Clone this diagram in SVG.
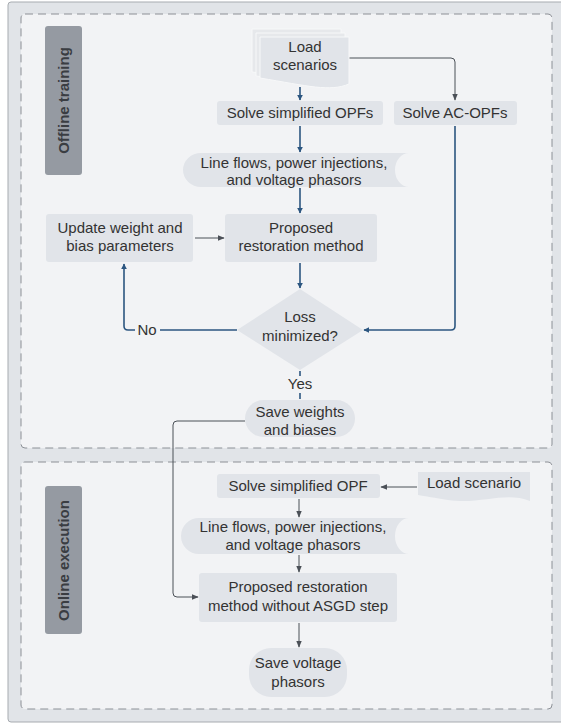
<svg xmlns="http://www.w3.org/2000/svg" width="561" height="724" viewBox="0 0 561 724">
<style>
.t{font-family:"Liberation Sans",Arial,sans-serif;font-size:15px;fill:#333;text-anchor:middle}
.lbl{font-family:"Liberation Sans",Arial,sans-serif;font-size:15px;font-weight:bold;fill:#3a3d42;text-anchor:middle}
.n{fill:#e1e4e9}
.blue{fill:none;stroke:#2c5680;stroke-width:1.6}
.gray{fill:none;stroke:#4b5057;stroke-width:1}
.cont{fill:#f2f3f5;stroke:#8c9096;stroke-width:1;stroke-dasharray:8 5}
</style>
<defs>
<marker id="ab" viewBox="0 0 10 10" refX="9" refY="5" markerWidth="6" markerHeight="6" orient="auto" markerUnits="userSpaceOnUse"><path d="M0,0 L10,5 L0,10 Z" fill="#2c5680"/></marker>
<marker id="ag" viewBox="0 0 10 10" refX="9" refY="5" markerWidth="7" markerHeight="7" orient="auto" markerUnits="userSpaceOnUse"><path d="M0,1 L10,5 L0,9 Z" fill="#4b5057"/></marker>
</defs>
<rect x="8" y="2" width="560" height="720" rx="3" fill="#e1e4e8" stroke="#a7abb0" stroke-width="1"/>
<rect class="cont" x="21" y="14" width="531" height="434" rx="4"/>
<rect class="cont" x="21" y="462" width="531" height="247" rx="4"/>
<g id="lbl-offline"><rect x="45" y="26" width="37" height="149" rx="3" fill="#959aa2"/><text class="lbl" transform="translate(68.5,100.5) rotate(-90)">Offline training</text></g>
<g id="lbl-online"><rect x="45" y="486" width="37" height="148" rx="3" fill="#959aa2"/><text class="lbl" transform="translate(68.5,560.5) rotate(-90)">Online execution</text></g>

<g id="connectors">
<line class="blue" x1="300" y1="87" x2="300" y2="100" marker-end="url(#ab)"/>
<path class="gray" d="M349,58 H451 Q455,58 455,62 V100" marker-end="url(#ag)"/>
<line class="blue" x1="300" y1="126" x2="300" y2="152" marker-end="url(#ab)"/>
<line class="blue" x1="300" y1="188" x2="300" y2="213" marker-end="url(#ab)"/>
<line class="gray" x1="195" y1="238" x2="224" y2="238" marker-end="url(#ag)"/>
<line class="blue" x1="300" y1="263" x2="300" y2="288" marker-end="url(#ab)"/>
<path class="blue" d="M455,126 V326 Q455,330 451,330 H364" marker-end="url(#ab)"/>
<path class="blue" d="M237,330 H128 Q124,330 124,326 V264" marker-end="url(#ab)"/>
<rect x="135" y="321" width="25" height="18" fill="#f2f3f5"/>
<text class="t" x="147" y="335">No</text>
<line class="blue" x1="300" y1="371" x2="300" y2="399" stroke-width="1.2"/>
<rect x="283" y="376" width="34" height="17" fill="#f2f3f5"/>
<text class="t" x="300" y="389">Yes</text>
<path class="gray" d="M245,421 H177 Q173,421 173,425 V593 Q173,597 177,597 H198" marker-end="url(#ag)"/>
<line class="gray" x1="417" y1="487" x2="381" y2="487" marker-end="url(#ag)"/>
<line class="gray" x1="299" y1="499" x2="299" y2="517" marker-end="url(#ag)"/>
<line class="gray" x1="299" y1="555" x2="299" y2="572" marker-end="url(#ag)"/>
<line class="gray" x1="299" y1="623" x2="299" y2="647" marker-end="url(#ag)"/>
</g>

<g id="load-scenarios">
<path d="M252,29 H341 V76 C322,84 300,78 252,72 Z" fill="#e6e8eb" stroke="#f7f8f9" stroke-width="1"/>
<path d="M256,33 H345 V80 C326,88 304,82 256,76 Z" fill="#e6e8eb" stroke="#f7f8f9" stroke-width="1"/>
<path class="n" d="M260,37 H349 V84 C330,92 308,86 260,78 Z" stroke="#f7f8f9" stroke-width="1"/>
<text class="t" x="305" y="52">Load</text>
<text class="t" x="305" y="70">scenarios</text>
</g>
<g id="solve-simplified-opfs"><rect class="n" x="217" y="101" width="166" height="24" rx="3"/><text class="t" x="300" y="118">Solve simplified OPFs</text></g>
<g id="solve-ac-opfs"><rect class="n" x="394" y="101" width="123" height="24" rx="3"/><text class="t" x="455" y="118">Solve AC-OPFs</text></g>
<g id="line-flows-1"><path class="n" d="M201,153 H409 A14 17 0 0 0 409,187 H201 A18 17 0 0 1 201,153 Z"/><text class="t" x="294" y="168">Line flows, power injections,</text><text class="t" x="294" y="185">and voltage phasors</text></g>
<g id="update-weights"><rect class="n" x="46" y="214" width="147" height="48" rx="3"/><text class="t" x="120" y="233">Update weight and</text><text class="t" x="120" y="251">bias parameters</text></g>
<g id="proposed-1"><rect class="n" x="225" y="214" width="152" height="48" rx="3"/><text class="t" x="301" y="233">Proposed</text><text class="t" x="301" y="251">restoration method</text></g>
<g id="loss-minimized"><path class="n" d="M300,289 L363,330 L300,370 L237,330 Z"/><text class="t" x="300" y="322">Loss</text><text class="t" x="300" y="341">minimized?</text></g>
<g id="save-weights"><rect class="n" x="245" y="400" width="110" height="37" rx="18.5"/><text class="t" x="300" y="417">Save weights</text><text class="t" x="300" y="435">and biases</text></g>

<g id="solve-simplified-opf"><rect class="n" x="217" y="474" width="163" height="24" rx="3"/><text class="t" x="298" y="491">Solve simplified OPF</text></g>
<g id="load-scenario"><path class="n" d="M418,472 H530 V501 C505,491 480,505 448,500 C435,498 425,496 418,495 Z"/><text class="t" x="474" y="488">Load scenario</text></g>
<g id="line-flows-2"><path class="n" d="M199,518 H409 A14 18 0 0 0 409,554 H199 A18 18 0 0 1 199,518 Z"/><text class="t" x="293" y="532">Line flows, power injections,</text><text class="t" x="293" y="550">and voltage phasors</text></g>
<g id="proposed-2"><rect class="n" x="199" y="573" width="198" height="49" rx="3"/><text class="t" x="298" y="592">Proposed restoration</text><text class="t" x="298" y="611">method without ASGD step</text></g>
<g id="save-voltage"><rect class="n" x="249" y="648" width="98" height="49" rx="22"/><text class="t" x="298" y="668">Save voltage</text><text class="t" x="298" y="687">phasors</text></g>
</svg>
